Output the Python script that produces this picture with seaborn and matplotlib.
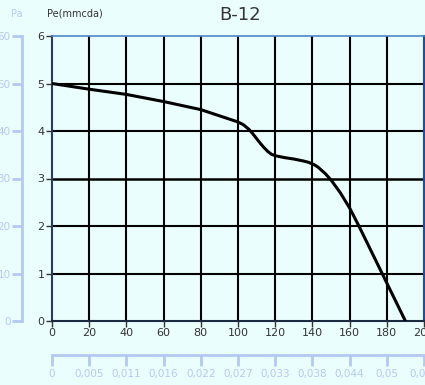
import pandas as pd
import seaborn as sns
import matplotlib.pyplot as plt

# Curve: flow (m3/h) vs static pressure (mmcda)
flow = [0, 20, 40, 60, 80, 100, 103, 106, 108, 110, 112, 114, 116, 118, 120, 125, 130,
        135, 138, 141, 143, 145, 147, 150, 155, 160, 165, 170, 175, 180, 185, 190]
pressure = [5.0, 4.88, 4.77, 4.62, 4.45, 4.19, 4.13, 4.03, 3.94, 3.84, 3.74, 3.65, 3.57,
            3.51, 3.48, 3.44, 3.41, 3.37, 3.34, 3.29, 3.24, 3.17, 3.10, 2.97, 2.70, 2.38,
            2.0, 1.6, 1.2, 0.8, 0.4, 0.0]

x_ticks = [0, 20, 40, 60, 80, 100, 120, 140, 160, 180, 200]
y_ticks = [0, 1, 2, 3, 4, 5, 6]
pa_ticks = [0, 10, 20, 30, 40, 50, 60]
m3s_labels = ['0', '0,005', '0,011', '0,016', '0,022', '0,027', '0,033', '0,038', '0,044', '0,05', '0,055']

bg = '#ebfefe'
light_blue = '#b3c9f3'
PX = 72 / 100  # points per pixel at dpi 100

df = pd.DataFrame({'flow': flow, 'pressure': pressure})

fig = plt.figure(figsize=(4.25, 3.85), dpi=100, facecolor=bg)
rect = [52 / 425, 64 / 385, 372 / 425, 285 / 385]
ax = fig.add_axes(rect)
ax.set_facecolor(bg)

# grid
for v in x_ticks[1:-1]:
    ax.axvline(v, color='black', lw=1.5, zorder=1)
for v in y_ticks[1:-1]:
    ax.axhline(v, color='black', lw=1.8 if v == 3 else 1.5, zorder=1)

sns.lineplot(data=df, x='flow', y='pressure', ax=ax, color='black', lw=2.2, zorder=3)

ax.set_xlim(0, 200)
ax.set_ylim(0, 6)
ax.set_xticks(x_ticks)
ax.set_yticks(y_ticks)
ax.set_xlabel('')
ax.set_ylabel('')
ax.tick_params(axis='both', labelsize=8, colors='#333333', length=6 * PX, width=1, pad=1)
ax.spines['left'].set_color('#2a3d58')
ax.spines['left'].set_linewidth(1.5)
ax.spines['bottom'].set_color('#1c2a40')
ax.spines['bottom'].set_linewidth(1.5)
ax.spines['top'].set_color('#4f86c6')
ax.spines['top'].set_linewidth(1.2)
ax.spines['right'].set_color('#1d4f9f')
ax.spines['right'].set_linewidth(1.5)

# secondary Pa axis on the left
ax_pa = fig.add_axes(rect)
ax_pa.patch.set_visible(False)
ax_pa.set_ylim(0, 60)
ax_pa.set_xticks([])
ax_pa.set_yticks(pa_ticks)
ax_pa.spines['left'].set_position(('outward', 30 * PX))
ax_pa.spines['left'].set_color(light_blue)
ax_pa.spines['left'].set_linewidth(2)
ax_pa.tick_params(axis='y', colors=light_blue, labelsize=7.5, length=10 * PX, width=2, pad=1)
for s in ['top', 'right', 'bottom']:
    ax_pa.spines[s].set_visible(False)

# secondary m3/s axis at the bottom
ax_m = fig.add_axes(rect)
ax_m.patch.set_visible(False)
ax_m.set_xlim(0, 200)
ax_m.set_yticks([])
ax_m.set_xticks(x_ticks)
ax_m.set_xticklabels(m3s_labels)
ax_m.spines['bottom'].set_position(('outward', 34 * PX))
ax_m.spines['bottom'].set_color(light_blue)
ax_m.spines['bottom'].set_linewidth(2)
ax_m.tick_params(axis='x', colors=light_blue, labelsize=7.5, length=11 * PX, width=2, pad=2)
for s in ['top', 'right', 'left']:
    ax_m.spines[s].set_visible(False)

fig.text(17 / 425, 1 - 14 / 385, 'Pa', color=light_blue, fontsize=7, ha='center', va='center')
fig.text(75 / 425, 1 - 14 / 385, 'Pe(mmcda)', color='#333333', fontsize=7, ha='center', va='center')
fig.text(240 / 425, 1 - 15 / 385, 'B-12', color='#333333', fontsize=13, ha='center', va='center')

plt.savefig('out.png', dpi=100, facecolor=bg)
